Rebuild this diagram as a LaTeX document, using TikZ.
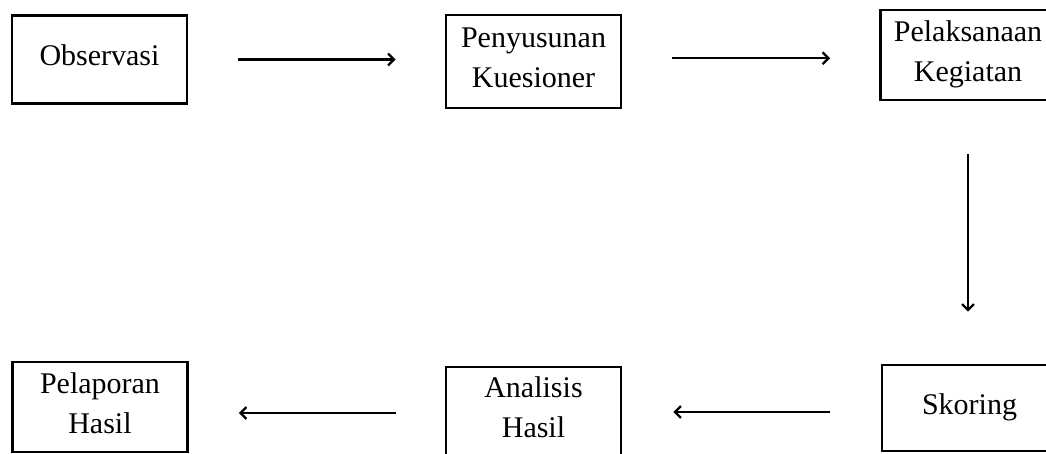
\documentclass[tikz,border=0pt]{standalone}
\usepackage{fontspec}
\setmainfont{Liberation Serif}
\usetikzlibrary{arrows.meta}
\tikzset{
  stepbox/.style={draw, line width=2.6pt, minimum width=175pt, inner sep=0pt,
    align=center, text depth=8pt, font=\fontsize{30}{40}\selectfont},
  arr/.style={line width=2.3pt, -{Straight Barb[length=6pt,width=12pt]}},
}
\begin{document}
\begin{tikzpicture}[x=1pt,y=-1pt]
\useasboundingbox (0,0) rectangle (1046,454);
\clip (0,0) rectangle (1046,454);
\fill[white] (0,0) rectangle (1046,454);
\node[stepbox, minimum height=88pt] (obs) at (99.5,59.5) {Observasi};
\node[stepbox, minimum height=93pt] (pen) at (533.5,61.5) {Penyusunan\\Kuesioner};
\node[stepbox, minimum height=90pt] (pel) at (968,55) {Pelaksanaan\\Kegiatan};
\node[stepbox, minimum height=86pt] (sko) at (969.5,408) {Skoring};
\node[stepbox, minimum height=88pt] (ana) at (533.5,411) {Analisis\\Hasil};
\node[stepbox, minimum height=90pt] (plp) at (100,407) {Pelaporan\\Hasil};
% top row
\draw[arr, shorten <=50pt, shorten >=49pt] (obs.east) -- (obs.east -| pen.west);
\path (pen.east) -- (pel.west) coordinate[pos=0.5] (m2);
\draw[arr, shorten <=50pt, shorten >=49pt] (pen.east |- m2) -- (pel.west |- m2);
% down
\draw[arr, shorten <=53pt, shorten >=52pt] (pel.south) -- (pel.south |- sko.north);
% bottom row
\draw[arr, shorten <=51pt, shorten >=51pt] ([yshift=-4pt]sko.west) -- ([yshift=-4pt]sko.west -| ana.east);
\draw[arr, shorten <=49pt, shorten >=50pt] ([yshift=-2pt]ana.west) -- ([yshift=-2pt]ana.west -| plp.east);
\end{tikzpicture}
\end{document}
